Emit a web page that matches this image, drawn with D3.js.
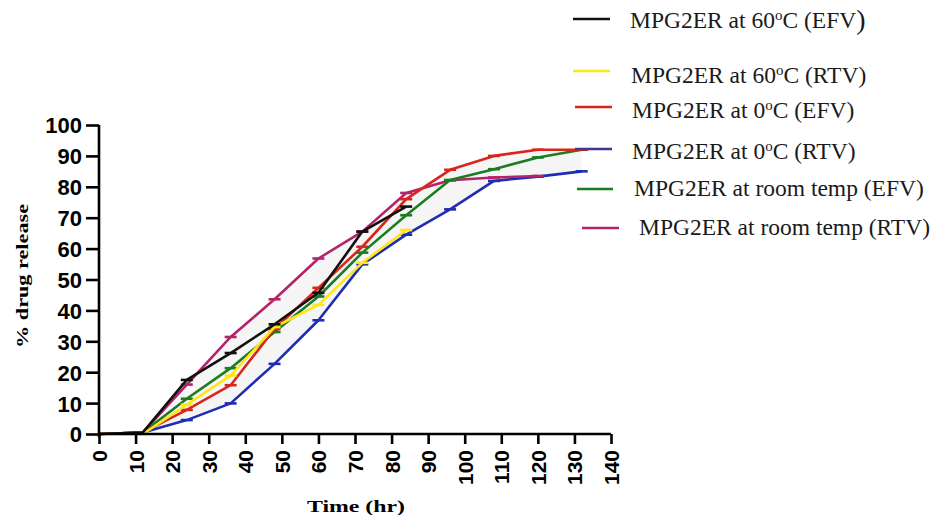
<!DOCTYPE html>
<html>
<head>
<meta charset="utf-8">
<script src="https://cdn.jsdelivr.net/npm/d3@7"></script>
<style>
html,body{margin:0;padding:0;background:#fff;}
svg{display:block;}
</style>
</head>
<body>
<svg id="chart" width="937" height="515"></svg>
<script>
// ---------- data ----------
const times = [0, 12, 24, 36, 48, 60, 72, 84, 96, 108, 120, 132];
const seriesNames = [
  "MPG2ER at 60°C (EFV)",
  "MPG2ER at 60°C (RTV)",
  "MPG2ER at 0°C (EFV)",
  "MPG2ER at 0°C (RTV)",
  "MPG2ER at room temp (EFV)",
  "MPG2ER at room temp (RTV)"
];
const mpg60EFV  = [0, 0.5, 17.5, 26.2, 35.5, 45.7, 65.5, 73.6];
const mpg60RTV  = [0, 0, 9.5, 18.9, 34.6, 41.8, 55.4, 66.0];
const mpg0EFV   = [0, 0.5, 7.8, 15.8, 34.0, 47.3, 60.6, 76.0, 85.5, 90.0, 92.0, 92.0];
const mpg0RTV   = [0, 0.5, 4.5, 9.9, 22.7, 36.8, 54.9, 64.5, 72.7, 81.9, 83.3, 85.0];
const mpgRoomEFV= [0, 0.5, 11.4, 21.3, 33.0, 44.5, 58.7, 70.8, 82.2, 85.7, 89.5, 92.0];
const mpgRoomRTV= [0, 0.5, 16.0, 31.4, 43.6, 56.8, 65.5, 78.0, 82.1, 83.0, 83.5];
const xTicks = [0,10,20,30,40,50,60,70,80,90,100,110,120,130,140];
const yTicks = [0,10,20,30,40,50,60,70,80,90,100];
const xTitle = "Time (hr)";
const yTitle = "% drug release";

// ---------- styling ----------
const lineColors   = ["#111111", "#ffe619", "#d8261c", "#1f2db2", "#1b7d1f", "#b3246c"];
const legendColors = ["#111111", "#ffe619", "#d8261c", "#3e3a8a", "#1b7d1f", "#b3246c"];
const allSeries = [mpg60EFV, mpg60RTV, mpg0EFV, mpg0RTV, mpgRoomEFV, mpgRoomRTV];
const drawOrder = [3, 5, 4, 2, 1, 0];

const svg = d3.select("#chart");
const x = d3.scaleLinear().domain([0, 140]).range([99, 611]);
const y = d3.scaleLinear().domain([0, 100]).range([434, 125]);

// envelope shading between lowest and highest curve
const env = times.map((t, i) => {
  const vals = allSeries.map(s => s[i]).filter(v => v !== undefined);
  return {t, lo: d3.min(vals), hi: d3.max(vals)};
});
svg.append("path")
  .datum(env)
  .attr("fill", "#f5f5f5")
  .attr("d", d3.area().x(d => x(d.t)).y0(d => y(d.lo)).y1(d => y(d.hi)));

// lines
const line = d3.line().x(d => x(d.t)).y(d => y(d.v));
drawOrder.forEach(k => {
  const pts = allSeries[k].map((v, i) => ({t: times[i], v}));
  const g = svg.append("g");
  g.append("path").datum(pts)
    .attr("fill", "none")
    .attr("stroke", lineColors[k])
    .attr("stroke-width", 2.6)
    .attr("stroke-linejoin", "round")
    .attr("d", line);
  // error bar caps
  g.selectAll("line.cap").data(pts.filter(d => d.t >= 24)).enter().append("line")
    .attr("x1", d => x(d.t) - 6).attr("x2", d => x(d.t) + 6)
    .attr("y1", d => y(d.v)).attr("y2", d => y(d.v))
    .attr("stroke", lineColors[k]).attr("stroke-width", 2.6);
});

// axes
const xAxis = svg.append("g").attr("transform", "translate(0,434)")
  .call(d3.axisBottom(x).tickValues(xTicks).tickSize(10).tickPadding(0));
xAxis.select(".domain").attr("stroke", "#000").attr("stroke-width", 2.6)
  .attr("d", "M" + x(0) + ",0H" + x(140));
xAxis.selectAll(".tick line").attr("stroke", "#000").attr("stroke-width", 2.6);
xAxis.selectAll(".tick text")
  .attr("font-family", "Liberation Sans, Arial, sans-serif")
  .attr("font-weight", "bold").attr("font-size", "21px").attr("fill", "#000")
  .attr("transform", "rotate(-90)")
  .attr("x", -16).attr("y", 0).attr("dy", "0.36em")
  .attr("text-anchor", "end");

const yAxis = svg.append("g").attr("transform", "translate(99,0)")
  .call(d3.axisLeft(y).tickValues(yTicks).tickSize(13).tickPadding(4));
yAxis.select(".domain").attr("stroke", "#000").attr("stroke-width", 2.6)
  .attr("d", "M0," + y(100) + "V" + (y(0) + 3));
yAxis.selectAll(".tick line").attr("stroke", "#000").attr("stroke-width", 2.6);
yAxis.selectAll(".tick text")
  .attr("font-family", "Liberation Sans, Arial, sans-serif")
  .attr("font-weight", "bold").attr("font-size", "22px").attr("fill", "#000")
  .attr("dy", "0.36em");

// axis titles
svg.append("text")
  .attr("x", 356).attr("y", 512)
  .attr("text-anchor", "middle")
  .attr("font-family", "Liberation Serif, Times New Roman, serif")
  .attr("font-weight", "bold").attr("font-size", "17px")
  .attr("textLength", 98).attr("lengthAdjust", "spacingAndGlyphs")
  .text(xTitle);
svg.append("text")
  .attr("transform", "translate(28,276) rotate(-90)")
  .attr("text-anchor", "middle")
  .attr("font-family", "Liberation Serif, Times New Roman, serif")
  .attr("font-weight", "bold").attr("font-size", "17px")
  .attr("textLength", 144).attr("lengthAdjust", "spacingAndGlyphs")
  .text(yTitle);

// legend
const legLayout = [
  {x1: 573, x2: 610, ly: 19,  tx: 630, ty: 28},
  {x1: 573, x2: 610, ly: 71,  tx: 631, ty: 83},
  {x1: 575, x2: 612, ly: 107, tx: 632, ty: 118},
  {x1: 575, x2: 612, ly: 149, tx: 632, ty: 159},
  {x1: 577, x2: 613, ly: 189, tx: 634, ty: 196},
  {x1: 582, x2: 619, ly: 228, tx: 639, ty: 235}
];
seriesNames.forEach((name, i) => {
  const L = legLayout[i];
  svg.append("line")
    .attr("x1", L.x1).attr("x2", L.x2).attr("y1", L.ly).attr("y2", L.ly)
    .attr("stroke", legendColors[i]).attr("stroke-width", 2.6);
  const t = svg.append("text")
    .attr("x", L.tx).attr("y", L.ty)
    .attr("font-family", "Liberation Serif, Times New Roman, serif")
    .attr("font-size", "23.5px").attr("fill", "#1a1a1a");
  const parts = name.split("°");
  if (parts.length === 2) {
    t.append("tspan").text(parts[0]);
    t.append("tspan").attr("font-size", "15px").attr("dy", -8).text("o");
    let rest = parts[1];
    if (i === 0) {
      t.append("tspan").attr("dy", 8).text(rest.slice(0, -1));
      t.append("tspan").attr("font-size", "28px").attr("dy", 1).text(rest.slice(-1));
    } else {
      t.append("tspan").attr("dy", 8).text(rest);
    }
  } else {
    t.text(name);
  }
});
</script>
</body>
</html>
